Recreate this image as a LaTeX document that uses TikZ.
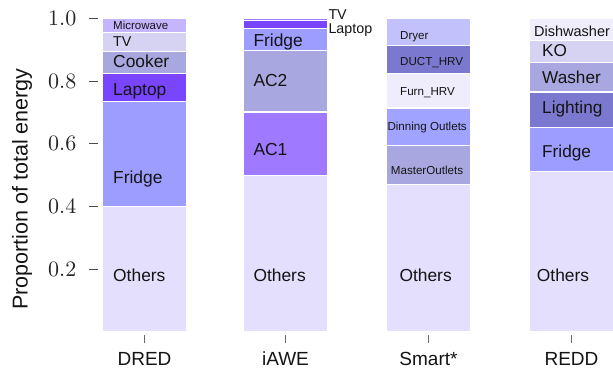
\documentclass[tikz,border=0pt]{standalone}
\usepackage{fontspec}
\newfontfamily\labfont{Liberation Sans}
\newfontfamily\tickfont{lmroman10-regular.otf}
\definecolor{cOthers}{HTML}{E3DFFC}
\definecolor{cFridge}{HTML}{9D9DFF}
\definecolor{cLaptop}{HTML}{7A45FF}
\definecolor{cMid}{HTML}{A9A7DF}
\definecolor{cTV}{HTML}{D5D3F1}
\definecolor{cMicro}{HTML}{C5B5FF}
\definecolor{cAC}{HTML}{9F79FF}
\definecolor{cDryer}{HTML}{C3C1FC}
\definecolor{cDark}{HTML}{7B79CF}
\definecolor{cPale}{HTML}{EFEDFB}
\definecolor{cDin}{HTML}{A0A3FF}
\definecolor{txt}{HTML}{141414}
\newcommand\barseg[4]{\filldraw[fill=#4,draw=white,line width=1.1pt] (#1,{331.8-313.5*#2}) rectangle ({#1+85},{331.8-313.5*#3});}
\tikzset{
  lab/.style n args={1}{anchor=base west,inner sep=0pt,text=txt,font=\labfont\fontsize{#1}{#1}\selectfont},
  cat/.style={anchor=base,inner sep=0pt,text=txt,font=\labfont\fontsize{19}{19}\selectfont},
  ytl/.style={anchor=east,inner sep=0pt,text=black!85,font=\tickfont\fontsize{22}{22}\selectfont},
  ytick/.style={draw=black!70,line width=1pt},
  xtick/.style={draw=black!60,line width=1pt}
}
\begin{document}
\begin{tikzpicture}[x=1pt,y=-1pt]
\useasboundingbox (0,0) rectangle (613,370);
% DRED
\barseg{102}{0}{0.40}{cOthers}
\barseg{102}{0.40}{0.736}{cFridge}
\barseg{102}{0.736}{0.823}{cLaptop}
\barseg{102}{0.823}{0.895}{cMid}
\barseg{102}{0.895}{0.955}{cTV}
\barseg{102}{0.955}{1.0}{cMicro}
% iAWE
\barseg{243}{0}{0.50}{cOthers}
\barseg{243}{0.50}{0.701}{cAC}
\barseg{243}{0.701}{0.896}{cMid}
\barseg{243}{0.896}{0.967}{cFridge}
\barseg{243}{0.967}{0.992}{cLaptop}
\barseg{243}{0.992}{1.0}{cAC}
% Smart*
\barseg{386}{0}{0.471}{cOthers}
\barseg{386}{0.471}{0.593}{cMid}
\barseg{386}{0.593}{0.714}{cDin}
\barseg{386}{0.714}{0.823}{cPale}
\barseg{386}{0.823}{0.912}{cDark}
\barseg{386}{0.912}{1.0}{cDryer}
% REDD
\barseg{529}{0}{0.51}{cOthers}
\barseg{529}{0.51}{0.652}{cFridge}
\barseg{529}{0.652}{0.765}{cDark}
\barseg{529}{0.765}{0.86}{cMid}
\barseg{529}{0.86}{0.93}{cTV}
\barseg{529}{0.93}{1.0}{cPale}
% DRED labels
\node[lab=11.5] (dmw) at (113,29.3) {Microwave};
\node[lab=14.3] (dtv) at (113,46.7) {TV};
\node[lab=17.4] (dco) at (113,67.3) {Cooker};
\node[lab=17.4] (dla) at (113,95) {Laptop};
\node[lab=17.4] (dfr) at (113,183.3) {Fridge};
\node[lab=17.4] (dot) at (113,281.3) {Others};
% iAWE labels
\node[lab=14.3] (itv) at (328.3,19.3) {TV};
\node[lab=14.3] (ila) at (328.3,33.3) {Laptop};
\node[lab=17.4] (ifr) at (253.3,46.7) {Fridge};
\node[lab=17.4] (iac2) at (253.3,86.7) {AC2};
\node[lab=17.4] (iac1) at (253.3,155) {AC1};
\node[lab=17.4] (iot) at (253.3,281.7) {Others};
% Smart* labels
\node[lab=11.6] (sdr) at (400,39.5) {Dryer};
\node[lab=11.6] (sdu) at (400,65) {DUCT\_HRV};
\node[lab=11.6] (sfu) at (400,95) {Furn\_HRV};
\node[lab=11.6] (sdi) at (387.3,130.7) {Dinning Outlets};
\node[lab=11.6] (sma) at (390.7,174) {MasterOutlets};
\node[lab=17.4] (sot) at (399.3,281.7) {Others};
% REDD labels
\node[lab=14.5] (rdw) at (534,36) {Dishwasher};
\node[lab=17.2] (rko) at (542,56) {KO};
\node[lab=17.2] (rwa) at (542,83.3) {Washer};
\node[lab=17.2] (rli) at (542,113.3) {Lighting};
\node[lab=17.2] (rfr) at (542,157.3) {Fridge};
\node[lab=17.4] (rot) at (536.7,281.7) {Others};
% y axis
\foreach \v/\t/\k in {0.2/0.2/a,0.4/0.4/b,0.6/0.6/c,0.8/0.8/d,1.0/1.0/e}{
  \coordinate (ta\k) at (89,{331.8-313.5*\v});
  \coordinate (tb\k) at (98,{331.8-313.5*\v});
  \draw[ytick] (ta\k) -- (tb\k);
  \node[ytl] (yl\k) at (76.5,{331.8-313.5*\v}) {\t};
}
\node[rotate=90,anchor=base,inner sep=0pt,text=txt,font=\labfont\fontsize{21.5}{21.5}\selectfont] (ylab) at (27.5,189) {Proportion of total energy};
% x axis
\foreach \c/\n/\t in {144.5/dred/DRED,285.5/iawe/iAWE,428.5/smart/Smart*,571.5/redd/REDD}{
  \coordinate (xa\n) at (\c,335);
  \coordinate (xb\n) at (\c,343);
  \draw[xtick] (xa\n) -- (xb\n);
  \node[cat] (x\n) at (\c,365) {\t};
}
\end{tikzpicture}
\end{document}
